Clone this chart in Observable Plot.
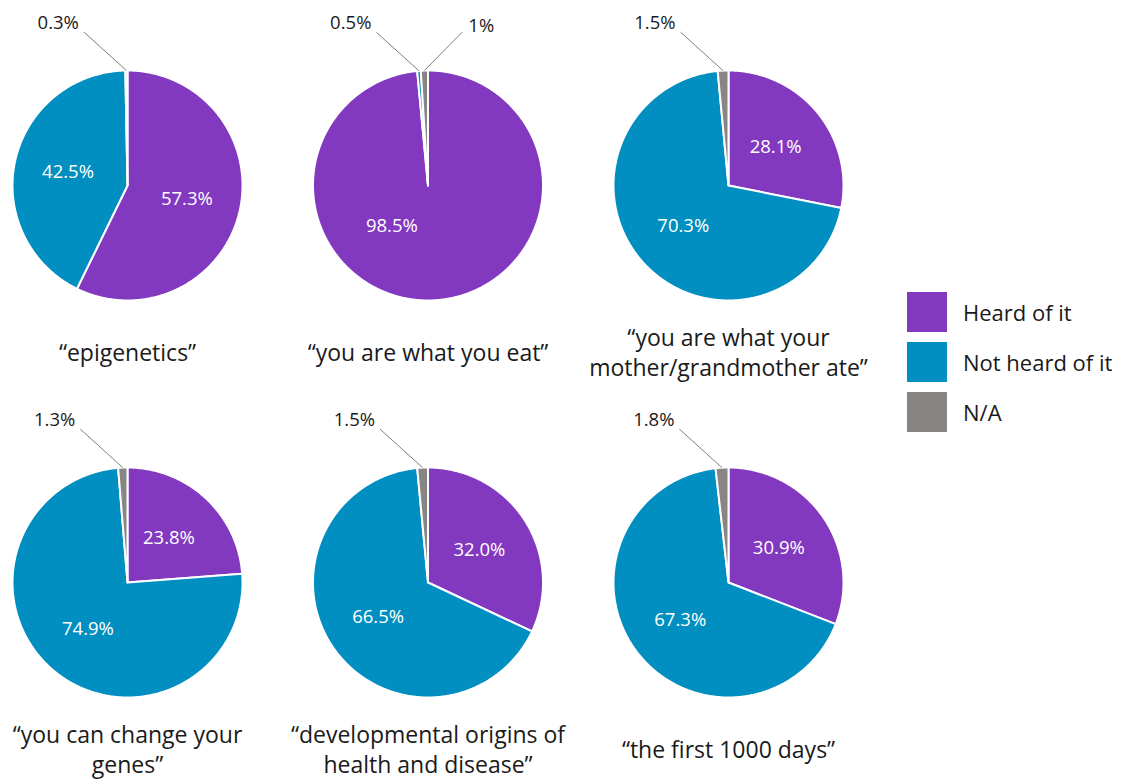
<!DOCTYPE html>
<html>
<head>
<meta charset="utf-8">
<script src="https://cdn.jsdelivr.net/npm/d3@7"></script>
<script src="https://cdn.jsdelivr.net/npm/@observablehq/plot@0.6"></script>
<style>
  body { margin: 0; background: #fff; }
  #chart { position: relative; width: 1121px; height: 782px; overflow: hidden; }
  #legend { position: absolute; left: 907px; top: 292px; }
  #legend .lg-swatch { margin-bottom: 9px !important; font: 22px "Open Sans", sans-serif; color: #1a1a1a; }
  #legend .lg-swatch svg { margin-right: 16px !important; }
</style>
</head>
<body>
<div id="chart"></div>
<script>
// ---- data ----
const questions = [
  "\u201cepigenetics\u201d",
  "\u201cyou are what you eat\u201d",
  "\u201cyou are what your\nmother/grandmother ate\u201d",
  "\u201cyou can change your\ngenes\u201d",
  "\u201cdevelopmental origins of\nhealth and disease\u201d",
  "\u201cthe first 1000 days\u201d"
];
const categories = ["Heard of it", "Not heard of it", "N/A"];
const heardOfIt    = [57.3, 98.5, 28.1, 23.8, 32.0, 30.9];
const notHeardOfIt = [42.5, 0.5, 70.3, 74.9, 66.5, 67.3];
const notAvailable = [0.3, 1, 1.5, 1.3, 1.5, 1.8];

// ---- styling / layout ----
const colors = ["#8338c0", "#008fc0", "#8a8585"];
const fmt = v => (Number.isInteger(v) && v < 10) ? v + "%" : v.toFixed(1) + "%";
const insideR = 0.53;
const insideOverride = {"1|Heard of it": {angle: 222, r: 0.47}}; // label placement tweak

const series = [heardOfIt, notHeardOfIt, notAvailable];
const slices = [];
questions.forEach((q, i) => {
  const total = d3.sum(series, s => s[i]);
  let start = 0;
  let smallCount = 0;
  categories.forEach((c, k) => {
    const v = series[k][i];
    const a0 = start / total * 2 * Math.PI;
    const a1 = (start + v) / total * 2 * Math.PI;
    start += v;
    const s = {i, q, col: i % 3, row: Math.floor(i / 3), category: c, value: v, a0, a1, label: fmt(v)};
    if (v < 5) { s.side = smallCount === 0 ? -1 : 1; smallCount++; }
    slices.push(s);
  });
});

// polygon vertices of each slice (in unit-circle coordinates)
const verts = [];
slices.forEach((s, j) => {
  const n = Math.max(2, Math.ceil((s.a1 - s.a0) / (Math.PI / 360)));
  verts.push({...s, key: j, px: 0, py: 0});
  for (let t = 0; t <= n; t++) {
    const a = s.a0 + (s.a1 - s.a0) * t / n;
    verts.push({...s, key: j, px: Math.sin(a), py: Math.cos(a)});
  }
  verts.push({...s, key: j, px: 0, py: 0});
});

const inside = slices.filter(s => s.value >= 5).map(s => {
  const o = insideOverride[s.i + "|" + s.category];
  const a = o ? o.angle * Math.PI / 180 : (s.a0 + s.a1) / 2;
  const r = o ? o.r : insideR;
  return {...s, lx: r * Math.sin(a), ly: r * Math.cos(a)};
});

const outside = slices.filter(s => s.value < 5).map(s => {
  const a = (s.a0 + s.a1) / 2;
  const ex = Math.sin(a), ey = Math.cos(a);
  return {...s, ex, ey, tx: ex + (s.side < 0 ? -0.37 : 0.33), ty: ey + 0.335};
});

const pies = questions.map((q, i) => ({q, i, col: i % 3, row: Math.floor(i / 3)}));

const plot = Plot.plot({
  width: 1121,
  height: 782,
  marginLeft: 12,
  marginRight: 278,
  marginTop: 70,
  marginBottom: 85,
  facet: {marginTop: 0, marginRight: 0, marginBottom: 0, marginLeft: 0},
  fx: {domain: [0, 1, 2], paddingInner: 0.2346, paddingOuter: 0, axis: null, round: false},
  fy: {domain: [0, 1], paddingInner: 0.4207, paddingOuter: 0, axis: null, round: false},
  x: {domain: [-1, 1], axis: null},
  y: {domain: [-1, 1], axis: null},
  color: {domain: categories, range: colors},
  style: {fontFamily: "'Open Sans', sans-serif", fontSize: "19px", overflow: "visible", background: "white"},
  marks: [
    Plot.line(verts, {x: "px", y: "py", z: "key", fill: "category", stroke: "white", strokeWidth: 2,
      strokeLinejoin: "round", fx: "col", fy: "row"}),
    Plot.text(inside, {x: "lx", y: "ly", text: "label", fill: "white", fx: "col", fy: "row", fontSize: 18.5}),
    Plot.link(outside, {x1: "ex", y1: "ey", x2: "tx", y2: "ty", stroke: "#7f7f7f", strokeWidth: 1, fx: "col", fy: "row"}),
    Plot.text(outside.filter(d => d.side < 0), {x: "tx", y: "ty", text: "label", textAnchor: "end", dx: -5, dy: -9,
      fill: "#1a1a1a", fx: "col", fy: "row", fontSize: 18.5}),
    Plot.text(outside.filter(d => d.side > 0), {x: "tx", y: "ty", text: "label", textAnchor: "start", dx: 6, dy: -6,
      fill: "#1a1a1a", fx: "col", fy: "row", fontSize: 18.5}),
    Plot.text(pies, {x: 0, y: -1.44, text: "q", fill: "#1a1a1a", lineHeight: 1.3, fx: "col", fy: "row", fontSize: 23})
  ]
});

const chart = document.getElementById("chart");
chart.appendChild(plot);
const legend = plot.legend("color", {legend: "swatches", swatchSize: 40, columns: 1, className: "lg"});
const lgWrap = document.createElement("div");
lgWrap.id = "legend";
lgWrap.appendChild(legend);
chart.appendChild(lgWrap);
</script>
</body>
</html>
